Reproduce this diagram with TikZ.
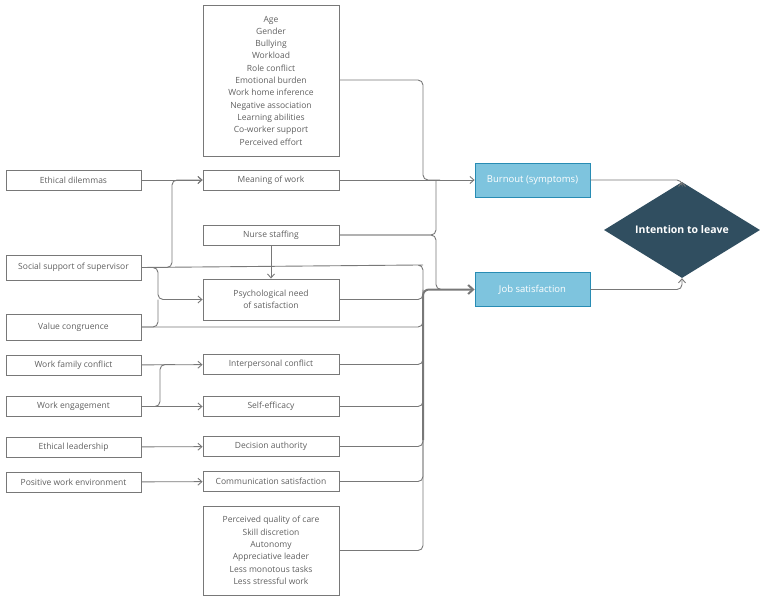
\documentclass[tikz,border=0pt]{standalone}
\usepackage{fontspec}
\setmainfont{Open Sans}
\usetikzlibrary{shapes.geometric,arrows.meta}
\definecolor{boxgray}{RGB}{120,120,120}
\definecolor{txtgray}{RGB}{95,95,95}
\definecolor{outblue}{RGB}{126,196,222}
\definecolor{outedge}{RGB}{40,140,180}
\definecolor{goaldark}{RGB}{48,78,96}
\tikzset{
  factor/.style={draw=boxgray, line width=0.9pt, text=txtgray, font=\fontsize{8.5}{12.3}\selectfont,
    minimum height=20pt, inner sep=2pt, align=center},
  leftbox/.style={factor, minimum width=135pt},
  midbox/.style={factor, minimum width=136pt},
  outcome/.style={draw=outedge, thick, fill=outblue, text=white, font=\fontsize{9.5}{11}\selectfont,
    minimum width=115pt, minimum height=34pt},
  link/.style={draw=boxgray, line width=0.9pt, rounded corners=5pt},
  arr/.style={link, -{Straight Barb[length=4pt,width=7pt]}},
  bus/.style={draw=boxgray, line width=2pt, rounded corners=6pt}
}
\begin{document}
\begin{tikzpicture}[x=1pt,y=-1pt]
\useasboundingbox (0,0) rectangle (764,600);
% left column
\node[leftbox] (ethdil) at (73.5,180) {Ethical dilemmas};
\node[leftbox, minimum height=25pt] (socsup) at (73.5,267.5) {Social support of supervisor};
\node[leftbox, minimum height=26pt] (valcon) at (73.5,327) {Value congruence};
\node[leftbox] (wfc) at (73.5,365) {Work family conflict};
\node[leftbox] (weng) at (73.5,406.5) {Work engagement};
\node[leftbox] (ethlead) at (73.5,447) {Ethical leadership};
\node[leftbox] (poswork) at (73.5,482) {Positive work environment};
% middle column
\node[midbox, minimum height=151pt] (demog) at (271,80.5) {Age\\Gender\\Bullying\\Workload\\Role conflict\\Emotional burden\\Work home inference\\Negative association\\Learning abilities\\Co-worker support\\Perceived effort};
\node[midbox] (meaning) at (271,180) {Meaning of work};
\node[midbox] (staff) at (271,235) {Nurse staffing};
\node[midbox, minimum height=41pt] (psych) at (271,299.5) {Psychological need\\of satisfaction};
\node[midbox] (interp) at (271,364.5) {Interpersonal conflict};
\node[midbox] (selfeff) at (271,406.5) {Self-efficacy};
\node[midbox] (decis) at (271,446.5) {Decision authority};
\node[midbox] (commsat) at (271,481.5) {Communication satisfaction};
\node[midbox, minimum height=89pt] (quality) at (271,550.5) {Perceived quality of care\\Skill discretion\\Autonomy\\Appreciative leader\\Less monotous tasks\\Less stressful work};
% outcomes
\node[outcome] (burnout) at (532.5,180) {Burnout (symptoms)};
\node[outcome] (jobsat) at (532.5,289.5) {Job satisfaction};
\node[diamond, aspect=1.6, fill=goaldark, text=white, font=\bfseries\fontsize{10.5}{12}\selectfont,
  minimum width=156pt, minimum height=96pt, inner sep=0pt] (leave) at (682,230) {Intention to leave};
% left to middle
\draw[arr] (ethdil) -- (meaning);
\draw[arr] (socsup.east) -| (172,180) -- (meaning.west);
\draw[arr] (socsup.east) -| (158,299.5) -- (psych.west);
\draw[link] (valcon.east) -| (158,299.5);
\draw[arr] (wfc) -- (interp);
\draw[arr] (weng) -- (selfeff);
\draw[link] (weng.east) -| (160,364.5) -- (175,364.5);
\draw[arr] (ethlead) -- (decis);
\draw[arr] (poswork) -- (commsat);
\draw[arr] (staff) -- (psych);
% middle to burnout
\draw[link] (demog.east |- 0,80) -| (423,180) -- (440,180);
\draw[arr] (meaning) -- (burnout);
\draw[link] (staff.east) -| (436,180);
\draw[link] (staff.east) -| (436,289.5) -- (450,289.5);
% middle to job satisfaction
\draw[link] (socsup.east) -- (418,265) -| (423,289.5);
\draw[link] (psych.east) -| (423,289.5);
\draw[link] (valcon.east) -| (423,289.5);
\draw[link] (interp.east) -| (423,300);
\draw[link] (selfeff.east) -| (423,300);
\draw[link] (decis.east) -| (423,300);
\draw[link] (commsat.east) -| (423,300);
\draw[link] (quality.east) -| (423,300);
\draw[bus, -{Straight Barb[length=5pt,width=9pt]}] (423,440) |- (jobsat.west);
% outcomes to intention
\draw[arr] (burnout.east) -| (leave.north);
\draw[arr] (jobsat.east) -| (leave.south);
\end{tikzpicture}
\end{document}
